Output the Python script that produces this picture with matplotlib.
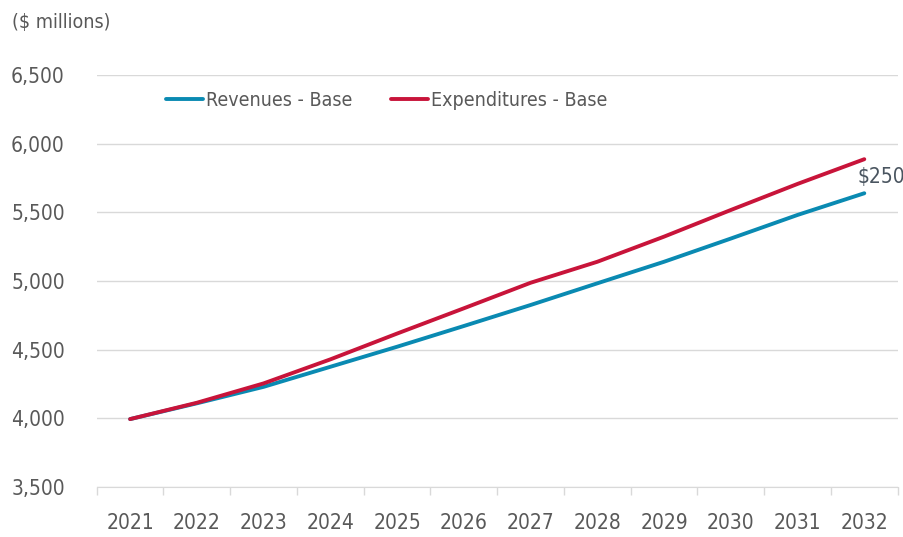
# Revenues vs expenditures, base projection
import matplotlib
matplotlib.use('Agg')
import matplotlib.pyplot as plt
from matplotlib.ticker import FixedLocator, FuncFormatter

plt.rcParams['font.family'] = ['Liberation Sans Narrow', 'DejaVu Sans']
plt.rcParams['font.stretch'] = 'condensed'

# data ($ millions)
years = ['2021', '2022', '2023', '2024', '2025', '2026',
         '2027', '2028', '2029', '2030', '2031', '2032']
revenues = [3995, 4110, 4230, 4376, 4522, 4673, 4826, 4984, 5141, 5310, 5482, 5640]
expenditures = [3995, 4114, 4255, 4430, 4618, 4802, 4988, 5141, 5324, 5518, 5708, 5888]
gap_label = '$250'

blue = '#0a8ab2'
red = '#c8143a'
text_grey = '#595959'

fig = plt.figure(figsize=(9.04, 5.37), dpi=100)
ax = fig.add_axes([0.107, 0.093, 0.886, 0.767])

x = list(range(len(years)))
ax.plot(x, revenues, color=blue, linewidth=2.8, solid_capstyle='round', label='Revenues - Base')
ax.plot(x, expenditures, color=red, linewidth=2.8, solid_capstyle='round', label='Expenditures - Base')

# gap label at the end of the lines
ax.annotate(gap_label, xy=(x[-1], revenues[-1]), xytext=(-5, 11.5), textcoords='offset points',
            fontsize=15, color='#4a5560', ha='left', va='center')

ax.set_ylim(3500, 6500)
ax.set_xlim(-0.5, len(years) - 0.5)
ax.set_yticks(range(3500, 6501, 500))
ax.yaxis.set_major_formatter(FuncFormatter(lambda v, p: f'{int(v):,}'))
ax.grid(axis='y', color='#d9d9d9', linewidth=1)
ax.set_axisbelow(True)

ax.set_xticks(x)
ax.set_xticklabels(years)
ax.xaxis.set_minor_locator(FixedLocator([i - 0.5 for i in range(len(years) + 1)]))
ax.tick_params(axis='x', which='major', length=0, pad=19, labelsize=15, labelcolor=text_grey)
ax.tick_params(axis='x', which='minor', length=6, color='#d9d9d9', width=1)
ax.tick_params(axis='y', length=0, pad=23, labelsize=15, labelcolor=text_grey)

for side in ['left', 'right', 'top']:
    ax.spines[side].set_visible(False)
ax.spines['bottom'].set_color('#d9d9d9')

leg = ax.legend(loc='upper left', bbox_to_anchor=(0.065, 1.005), ncol=2, frameon=False,
                fontsize=14, handlelength=1.9, handletextpad=0.15, columnspacing=2.0)
for t in leg.get_texts():
    t.set_color(text_grey)

fig.text(0.013, 0.958, '($ millions)', fontsize=14, color=text_grey, ha='left', va='center')

fig.savefig('out.png', dpi=100)
